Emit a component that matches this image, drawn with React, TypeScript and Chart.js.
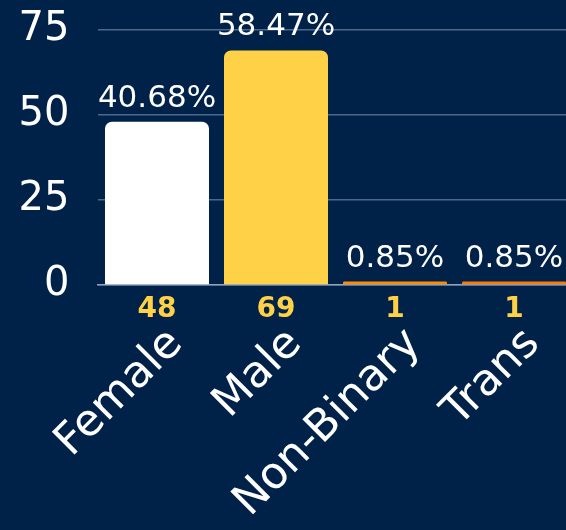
import React, { useEffect, useRef } from "react";
import { Chart, registerables } from "chart.js";

Chart.register(...registerables);

const categories = ["Female", "Male", "Non-Binary", "Trans"];
const counts = [48, 69, 1, 1];
const percentLabels = ["40.68%", "58.47%", "0.85%", "0.85%"];
const barColors = ["#ffffff", "#ffd147", "#ff8c00", "#ff7a00"];
const yMin = 0;
const yMax = 75;
const yStep = 25;

const BG = "#002249";
const FONT = "'DejaVu Sans', sans-serif";
const CANVAS_W = 581;
const CANVAS_H = 530;

const bgPlugin = {
  id: "bg",
  beforeDraw(chart: any) {
    const { ctx, width, height } = chart;
    ctx.save();
    ctx.fillStyle = BG;
    ctx.fillRect(0, 0, width, height);
    ctx.restore();
  },
};

const labelsPlugin = {
  id: "barLabels",
  afterDatasetsDraw(chart: any) {
    const ctx = chart.ctx;
    const meta = chart.getDatasetMeta(0);
    const bottom = chart.chartArea.bottom;
    ctx.save();
    meta.data.forEach((bar: any, i: number) => {
      ctx.textAlign = "center";
      ctx.textBaseline = "alphabetic";
      ctx.font = `31px ${FONT}`;
      ctx.fillStyle = "#ffffff";
      ctx.fillText(percentLabels[i], bar.x, bar.y - 15);
      ctx.font = `bold 28px ${FONT}`;
      ctx.fillStyle = "#ffd147";
      ctx.fillText(String(counts[i]), bar.x, bottom + 32);
      // rotated category label
      ctx.save();
      ctx.translate(bar.x + 19, bottom + 52);
      ctx.rotate(-Math.PI / 4);
      ctx.textAlign = "right";
      ctx.textBaseline = "middle";
      ctx.font = `44px ${FONT}`;
      ctx.fillStyle = "#ffffff";
      ctx.fillText(categories[i], 0, 0);
      ctx.restore();
    });
    ctx.restore();
  },
};

export default function App() {
  const ref = useRef<HTMLCanvasElement | null>(null);

  useEffect(() => {
    document.body.style.margin = "0";
    document.body.style.overflow = "hidden";
    document.body.style.background = BG;
    const canvas = ref.current;
    if (!canvas) return;
    const chart = new Chart(canvas, {
      type: "bar",
      data: {
        labels: categories,
        datasets: [
          {
            data: counts,
            backgroundColor: barColors,
            borderWidth: 0,
            borderRadius: 7,
            borderSkipped: "start",
            barPercentage: 0.874,
            categoryPercentage: 1,
          },
        ],
      },
      options: {
        responsive: false,
        animation: false,
        devicePixelRatio: 1,
        layout: { padding: { left: 0, right: 7.5, top: 30, bottom: 0 } },
        plugins: {
          legend: { display: false },
          tooltip: { enabled: false },
        },
        scales: {
          x: {
            grid: { display: false, drawTicks: false },
            border: { display: true, color: "#8ea2bd", width: 1.5 },
            ticks: { display: false },
            afterFit(scale: any) {
              scale.height = 245;
            },
          },
          y: {
            min: yMin,
            max: yMax,
            grid: {
              color: "rgba(170,190,215,0.45)",
              lineWidth: 1.5,
              drawTicks: false,
            },
            border: { display: false },
            ticks: {
              stepSize: yStep,
              color: "#ffffff",
              font: { family: FONT, size: 40 },
              padding: 28,
            },
            afterFit(scale: any) {
              scale.width = 97.5;
              scale.paddingTop = 0;
              scale.paddingBottom = 0;
            },
          },
        },
      },
      plugins: [bgPlugin, labelsPlugin],
    });
    return () => chart.destroy();
  }, []);

  return (
    <div style={{ width: CANVAS_W, height: CANVAS_H, overflow: "hidden", background: BG }}>
      <canvas ref={ref} width={CANVAS_W} height={CANVAS_H} style={{ display: "block" }} />
    </div>
  );
}
